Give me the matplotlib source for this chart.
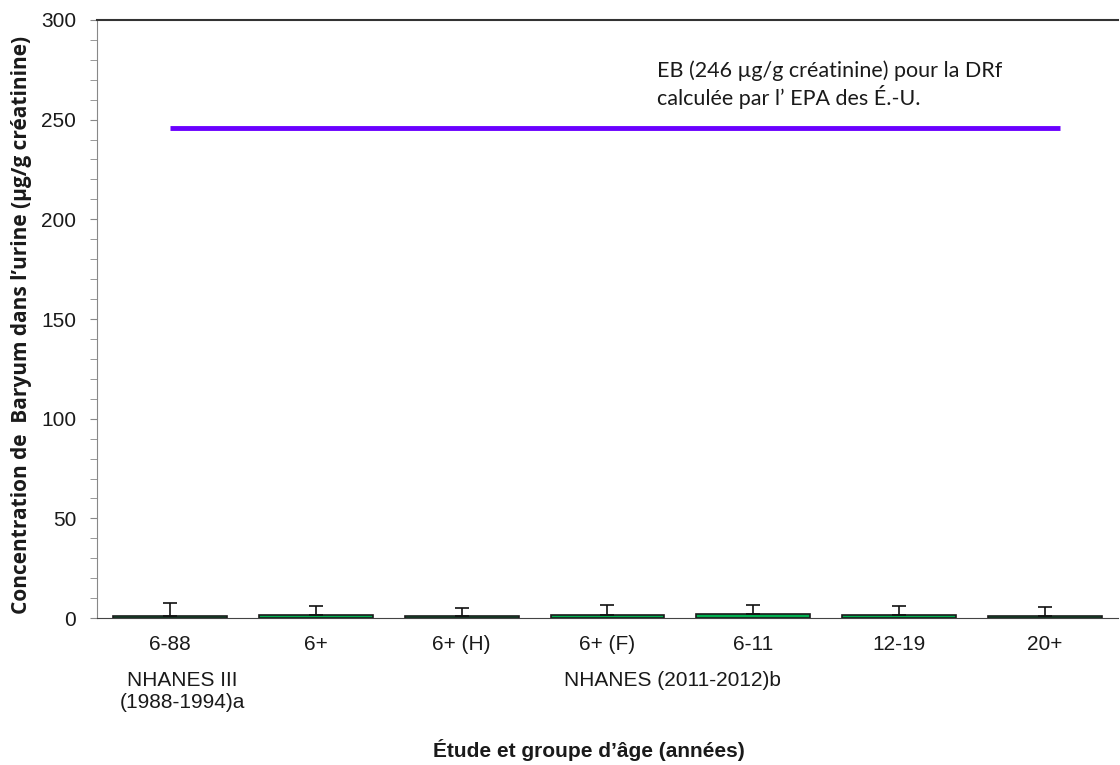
import matplotlib.pyplot as plt
from matplotlib.ticker import MultipleLocator
import numpy as np

categories = ['6-88', '6+', '6+ (H)', '6+ (F)', '6-11', '12-19', '20+']
values = [1.1, 1.5, 1.1, 1.5, 1.9, 1.5, 0.9]
err_up = [6.3, 4.5, 3.8, 4.9, 4.5, 4.4, 4.5]
eb_value = 246

x = np.arange(len(categories))

fig = plt.figure(figsize=(11.2, 7.65), dpi=100)
ax = fig.add_axes([0.0866, 0.192, 0.9116, 0.782])

ax.bar(x, values, width=0.78, color='#00B050', edgecolor='#1a1a1a', linewidth=1.2,
       yerr=[np.zeros(len(values)), err_up], error_kw=dict(ecolor='#111111', elinewidth=1.2,
                                                            capsize=5, capthick=1.2), zorder=2)

# ligne de l'EB
ax.plot([0.0, 6.1], [eb_value, eb_value], color='#6A00FF', linewidth=3.5, solid_capstyle='butt')
ax.text(3.34, 267.5, 'EB (246 µg/g créatinine) pour la DRf\ncalculée par l\u2019 EPA des É.-U.',
        fontsize=15.5, family='Lato', color='#1a1a1a', va='center', ha='left', linespacing=1.2)

ax.set_xlim(-0.5, 6.5)
ax.set_ylim(0, 300)
ax.yaxis.set_major_locator(MultipleLocator(50))
ax.yaxis.set_minor_locator(MultipleLocator(10))
ax.set_xticks(x)
ax.set_xticklabels(categories, fontsize=15, family='Liberation Sans', color='#1a1a1a')
ax.tick_params(axis='x', length=0, pad=12)
ax.tick_params(axis='y', which='both', direction='out', length=5, color='#888888',
               labelsize=15, labelcolor='#1a1a1a', pad=10)
for lab in ax.get_yticklabels():
    lab.set_family('Liberation Sans')

ax.spines['right'].set_visible(False)
ax.spines['left'].set_color('#888888')
ax.spines['bottom'].set_color('#444444')
ax.spines['top'].set_color('#333333')
ax.spines['top'].set_linewidth(1.5)

fig.text(0.1625, 0.096, 'NHANES III\n(1988-1994)a', ha='center', va='center', fontsize=15,
         family='Liberation Sans', color='#1a1a1a', linespacing=1.25)
fig.text(0.6, 0.111, 'NHANES (2011-2012)b', ha='center', va='center', fontsize=15,
         family='Liberation Sans', color='#1a1a1a')
fig.text(0.526, 0.019, 'Étude et groupe d\u2019âge (années)', ha='center', va='center',
         fontsize=15, fontweight='bold', family='Liberation Sans', color='#1a1a1a')
fig.text(0.019, 0.575, 'Concentration de  Baryum dans l\u2019urine (µg/g créatinine)', rotation=90,
         ha='center', va='center', fontsize=15, fontweight='bold', family='Open Sans',
         color='#1a1a1a')

fig.savefig('out.png', dpi=100)
